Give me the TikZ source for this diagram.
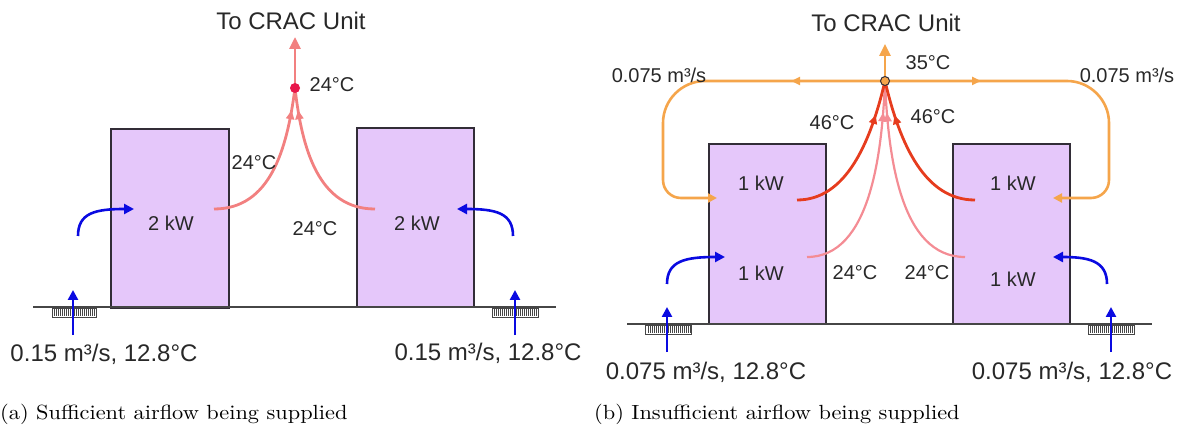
\documentclass[tikz,border=0pt]{standalone}
\usepackage{graphicx}
\usepackage{fontspec}
\newfontfamily\arialf{Liberation Sans}
\usetikzlibrary{arrows.meta,decorations.markings}
\definecolor{boxfill}{RGB}{229,199,250}
\definecolor{rackline}{RGB}{50,45,55}
\definecolor{floorc}{RGB}{70,70,70}
\definecolor{txt}{RGB}{40,40,40}
\definecolor{flowblue}{RGB}{10,10,225}
\definecolor{pinkc}{RGB}{242,128,128}
\definecolor{lpink}{RGB}{244,140,148}
\definecolor{redc}{RGB}{230,60,30}
\definecolor{orangec}{RGB}{245,165,75}
\definecolor{dotred}{RGB}{232,23,74}
\newcommand{\grillebox}[3]{%
  \draw[draw=floorc, fill=white, line width=0.8pt] (#1,#3) rectangle (#2,#3+9);
  \pgfmathtruncatemacro{\gstart}{#1+2}\pgfmathtruncatemacro{\gend}{#2-1}
  \foreach \gx in {\gstart,...,\gend}{\ifodd\gx\relax\else\draw[floorc, line width=0.6pt] (\gx,#3+1) -- (\gx,#3+8);\fi}
}
\tikzset{
  lbl/.style={font=\arialf\fontsize{20}{22}\selectfont, text=txt, inner sep=0pt},
  biglbl/.style={font=\arialf\fontsize{24}{26}\selectfont, text=txt, inner sep=0pt},
  captext/.style={font=\normalsize, text=black, inner sep=0pt, anchor=west},
  rack/.style={draw=rackline, fill=boxfill, line width=1.3pt, inner sep=0pt},
  floorline/.style={draw=floorc, line width=1.2pt},
  blueflow/.style={draw=flowblue, line width=2.6pt, -{Triangle[length=10pt,width=10pt]}},
  pinkflow/.style={draw=pinkc, line width=2.8pt},
  lpinkflow/.style={draw=lpink, line width=2.2pt},
  redflow/.style={draw=redc, line width=2.8pt},
  orangeflow/.style={draw=orangec, line width=2.6pt},
  midarrow/.style={postaction={decorate}, decoration={markings, mark=at position #1 with {\arrow{Triangle[length=9pt,width=8pt]}}}},
}
\begin{document}
\begin{tikzpicture}[x=1pt,y=-1pt]
\useasboundingbox (0,0) rectangle (1186,430);

% ================= (a) =================
\node[rack, minimum width=118pt, minimum height=179pt] (ra1) at (170,218.5) {};
\node[rack, minimum width=117pt, minimum height=179pt] (ra2) at (415.5,217.5) {};
\coordinate (fa1) at (33,307); \coordinate (fa2) at (556,307);
\draw[floorline] (fa1) -- (fa2);
\grillebox{52}{96}{308}
\grillebox{492}{538}{308}

\node[biglbl] (ta) at (291,21) {To CRAC Unit};
\coordinate (dota) at (295,88);
\coordinate (topa) at (295,37);
\coordinate (pla) at (214,209);
\coordinate (pra) at (375,209);
\draw[pinkflow, midarrow=0.86] (pla) .. controls (270,209) and (287,150) .. (dota);
\draw[pinkflow, midarrow=0.86] (pra) .. controls (319,209) and (302,150) .. (dota);
\draw[pinkflow, -{Triangle[length=12pt,width=11pt]}] (dota) -- (topa);
\fill[dotred] (dota) circle (5);
\node[lbl] (la1) at (332,85) {24°C};
\node[lbl] (la2) at (254,163) {24°C};
\node[lbl] (la3) at (315,229) {24°C};
\node[lbl] (kwa1) at (171,223) {2 kW};
\node[lbl] (kwa2) at (417,223) {2 kW};

\coordinate (ba1s) at (78,236); \coordinate (ba1e) at (134,209);
\coordinate (ba2s) at (513,236); \coordinate (ba2e) at (457,209);
\draw[blueflow] (ba1s) .. controls (78,213) and (95,209) .. (ba1e);
\draw[blueflow] (ba2s) .. controls (513,213) and (496,209) .. (ba2e);
\coordinate (ua1s) at (73,335); \coordinate (ua1e) at (73,290);
\coordinate (ua2s) at (515,335); \coordinate (ua2e) at (515,290);
\draw[blueflow] (ua1s) -- (ua1e);
\draw[blueflow] (ua2s) -- (ua2e);
\node[biglbl] (sa1) at (104,354) {0.15 m³/s, 12.8°C};
\node[biglbl] (sa2) at (488,353) {0.15 m³/s, 12.8°C};
\node[captext] (capa) at (0,414) {\scalebox{2.235}[2.05]{(a) Sufficient airflow being supplied}};

% ================= (b) =================
\node[rack, minimum width=117pt, minimum height=180pt] (rb1) at (767.5,234) {};
\node[rack, minimum width=117pt, minimum height=180pt] (rb2) at (1011.5,234) {};
\coordinate (fb1) at (627,324); \coordinate (fb2) at (1152,324);
\draw[floorline] (fb1) -- (fb2);
\grillebox{645}{691}{325}
\grillebox{1088}{1134}{325}

\node[biglbl] (tb) at (886,23) {To CRAC Unit};
\coordinate (nb) at (885,81);
\coordinate (topb) at (885,44);
\coordinate (olb) at (717,198);
\coordinate (orb) at (1053,198);
\draw[orangeflow, midarrow=94pt, -{Triangle[length=9pt,width=9pt]}] (nb) -- (705,81) .. controls (682,81) and (663,100) .. (663,123) -- (663,180) .. controls (663,190) and (671,198) .. (681,198) -- (olb);
\draw[orangeflow, midarrow=96pt, -{Triangle[length=9pt,width=9pt]}] (nb) -- (1067,81) .. controls (1090,81) and (1109,100) .. (1109,123) -- (1109,180) .. controls (1109,190) and (1101,198) .. (1091,198) -- (orb);

\coordinate (rl) at (797,200); \coordinate (rr) at (975,200);
\coordinate (pl) at (807,257); \coordinate (pr) at (965,257);
\draw[lpinkflow, midarrow=0.85] (pl) .. controls (870,257) and (882,155) .. (nb);
\draw[lpinkflow, midarrow=0.85] (pr) .. controls (900,257) and (888,155) .. (nb);
\draw[redflow, midarrow=0.78] (rl) .. controls (845,200) and (870,145) .. (nb);
\draw[redflow, midarrow=0.78] (rr) .. controls (925,200) and (900,145) .. (nb);
\draw[orangeflow, -{Triangle[length=12pt,width=11pt]}] (nb) -- (topb);
\draw[fill=orangec, draw=rackline, line width=1pt] (nb) circle (4.5);

\node[lbl] (lb35) at (928,63) {35°C};
\node[lbl] (lbq1) at (659,75) {0.075 m³/s};
\node[lbl] (lbq2) at (1127,75) {0.075 m³/s};
\node[lbl] (lb46a) at (832,123) {46°C};
\node[lbl] (lb46b) at (933,117) {46°C};
\node[lbl] (lb24a) at (855,273) {24°C};
\node[lbl] (lb24b) at (927,273) {24°C};
\node[lbl] (kwb1) at (761,183) {1 kW};
\node[lbl] (kwb2) at (761,273) {1 kW};
\node[lbl] (kwb3) at (1013,183) {1 kW};
\node[lbl] (kwb4) at (1013,279) {1 kW};

\coordinate (bb1s) at (667,284); \coordinate (bb1e) at (725,257);
\coordinate (bb2s) at (1107,284); \coordinate (bb2e) at (1053,257);
\draw[blueflow] (bb1s) .. controls (667,261) and (685,257) .. (bb1e);
\draw[blueflow] (bb2s) .. controls (1107,261) and (1089,257) .. (bb2e);
\coordinate (ub1s) at (667,352); \coordinate (ub1e) at (667,307);
\coordinate (ub2s) at (1111,352); \coordinate (ub2e) at (1111,307);
\draw[blueflow] (ub1s) -- (ub1e);
\draw[blueflow] (ub2s) -- (ub2e);
\node[biglbl] (sb1) at (706,372) {0.075 m³/s, 12.8°C};
\node[biglbl] (sb2) at (1072,372) {0.075 m³/s, 12.8°C};
\node[captext] (capb) at (594,414) {\scalebox{2.235}[2.05]{(b) Insufficient airflow being supplied}};
\end{tikzpicture}
\end{document}
